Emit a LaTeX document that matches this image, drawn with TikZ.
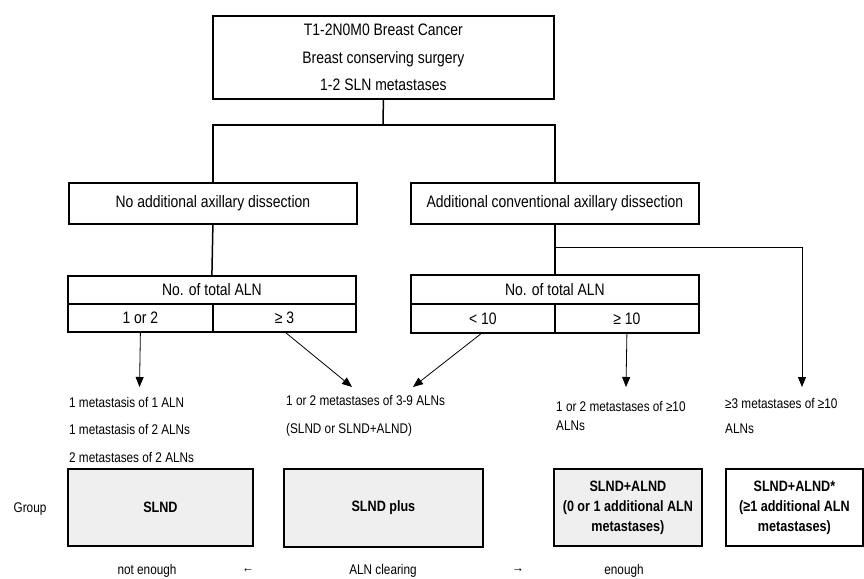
\documentclass[tikz,border=0pt]{standalone}
\usepackage{fontspec}
\setmainfont{Liberation Sans}[FakeStretch=0.84]
\usetikzlibrary{arrows.meta}
\definecolor{boxgray}{HTML}{EFEFEF}
\begin{document}
\begin{tikzpicture}[x=1pt,y=-1pt,
  box/.style={draw,line width=1.8pt,inner sep=0pt,anchor=north west,align=center},
  bigtxt/.style={font=\fontsize{16.6}{27.5}\selectfont},
  smalltxt/.style={font=\fontsize{14}{27.5}\selectfont},
  grp/.style={box,fill=boxgray,font=\bfseries\fontsize{15}{20}\selectfont},
  tree/.style={line width=1.5pt},
  arr/.style={line width=0.8pt,-{Triangle[width=8pt,length=10pt]}},
  plain/.style={inner sep=0pt,font=\fontsize{14}{20}\selectfont}
]
\useasboundingbox (0,0) rectangle (864,578);

% top box
\node[box,bigtxt,minimum width=341pt,minimum height=83pt] (top) at (212,15)
  {T1-2N0M0 Breast Cancer\\Breast conserving surgery\\1-2 SLN metastases};

% second level
\node[box,bigtxt,minimum width=288pt,minimum height=41pt] (left) at (68,182)
  {No additional axillary dissection};
\node[box,bigtxt,minimum width=288pt,minimum height=41pt] (right) at (410,182)
  {Additional conventional axillary dissection};

\coordinate (split) at (383,125);
\draw[tree] (top.south) -- (split);
\draw[tree] (left.north) -- (left.north |- split) -- (right.north |- split) -- (right.north);

% left table
\node[box,bigtxt,minimum width=288pt,minimum height=28pt] (alnLh) at (67,275) {No. of total ALN};
\node[box,bigtxt,minimum width=145pt,minimum height=28pt] (alnLa) at (67,303) {1 or 2};
\node[box,bigtxt,minimum width=143pt,minimum height=28pt] (alnLb) at (212,303) {≥ 3};
% right table
\node[box,bigtxt,minimum width=288pt,minimum height=29pt] (alnRh) at (410,274) {No. of total ALN};
\node[box,bigtxt,minimum width=144pt,minimum height=29pt] (alnRa) at (410,303) {< 10};
\node[box,bigtxt,minimum width=144pt,minimum height=29pt] (alnRb) at (554,303) {≥ 10};

\draw[tree] (left.south) -- (alnLh.north);
\draw[tree] (right.south) -- (alnRh.north);

% arrow ends
\coordinate (e1) at (139.5,387);
\coordinate (e2) at (352,387);
\coordinate (e3) at (413,387);
\coordinate (e4) at (626,387);
\coordinate (e5) at (802,387);
\coordinate (br) at (554,247);

\draw[arr] (alnLa.south) -- (e1);
\draw[arr] ([xshift=1.5pt]alnLb.south) -- (e2);
\draw[arr] ([xshift=-2pt]alnRa.south) -- (e3);
\draw[arr] (alnRb.south) -- (e4);
\draw[arr] (br) -| (e5);

% descriptive texts
\node[plain,anchor=west,align=left,font=\fontsize{14}{27.5}\selectfont] (t1) at (69,429.5)
  {1 metastasis of 1 ALN\\1 metastasis of 2 ALNs\\2 metastases of 2 ALNs};
\node[plain,anchor=west,align=left,font=\fontsize{14}{28}\selectfont] (t2) at (286,416)
  {1 or 2 metastases of 3-9 ALNs\\(SLND or SLND+ALND)};
\node[plain,anchor=west,align=left,font=\fontsize{14}{19}\selectfont] (t3) at (556,415.5)
  {1 or 2 metastases of ≥10\\ALNs};
\node[plain,anchor=west,align=left,font=\fontsize{14}{25}\selectfont] (t4) at (725,415.5)
  {≥3 metastases of ≥10\\ALNs};

% group boxes
\node[grp,minimum width=185pt,minimum height=77pt] (g1) at (67,468) {SLND};
\node[grp,minimum width=199pt,minimum height=78pt] (g2) at (283,468) {SLND plus};
\node[grp,minimum width=148pt,minimum height=77pt] (g3) at (553,468)
  {SLND+ALND\\(0 or 1 additional ALN\\metastases)};
\node[grp,fill=white,minimum width=137pt,minimum height=77pt] (g4) at (725,468)
  {SLND+ALND*\\(≥1 additional ALN\\metastases)};

\node[plain] (group) at (30,509) {Group};

% bottom scale
\node[plain] (b1) at (147,571) {not enough};
\node[plain] (b2) at (248,571) {←};
\node[plain] (b3) at (383,571) {ALN clearing};
\node[plain] (b4) at (518,571) {→};
\node[plain] (b5) at (624,571) {enough};
\end{tikzpicture}
\end{document}
